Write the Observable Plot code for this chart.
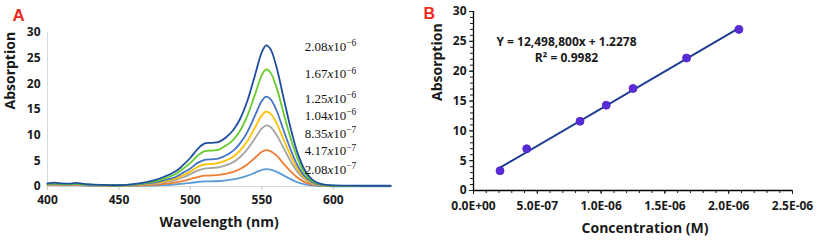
<!DOCTYPE html>
<html><head><meta charset="utf-8">
<script src="https://cdn.jsdelivr.net/npm/d3@7"></script>
<script src="https://cdn.jsdelivr.net/npm/@observablehq/plot@0.6"></script>
<style>
body{margin:0;background:#fff;}
#wrap{display:flex;width:817px;height:242px;overflow:hidden;}
#wrap svg{display:block;}
</style></head><body><div id="wrap"></div>
<script>
// ---------- Panel A: absorption spectra ----------
const wavelengths = [400,405,410,415,420,425,430,440,450,460,470,480,490,495,500,505,510,515,520,525,530,535,540,545,550,553,556,560,565,570,575,580,585,590,595,600,620,640];
const spec_208e7 = [0.25,0.3,0.25,0.22,0.25,0.2,0.15,0.1,0.08,0.12,0.18,0.25,0.4,0.55,0.7,0.88,1.0,1.02,1.07,1.2,1.37,1.66,2.1,2.67,3.25,3.4,3.3,2.9,2.2,1.45,0.82,0.42,0.2,0.1,0.06,0.05,0.04,0.04];
const spec_417e7 = [0.3,0.35,0.3,0.28,0.32,0.26,0.2,0.15,0.12,0.18,0.28,0.45,0.8,1.1,1.45,1.85,2.1,2.15,2.25,2.5,2.85,3.45,4.35,5.55,6.75,7.1,6.9,6.1,4.5,3.0,1.7,0.85,0.4,0.2,0.1,0.08,0.06,0.06];
const spec_835e7 = [0.35,0.45,0.38,0.35,0.4,0.32,0.25,0.18,0.15,0.26,0.42,0.75,1.3,1.8,2.4,3.1,3.5,3.6,3.75,4.15,4.75,5.8,7.3,9.3,11.3,11.9,11.6,10.2,7.6,5.0,2.8,1.4,0.6,0.3,0.15,0.1,0.08,0.08];
const spec_104e6 = [0.4,0.5,0.4,0.38,0.45,0.35,0.28,0.2,0.17,0.3,0.5,0.9,1.6,2.2,2.9,3.8,4.3,4.4,4.6,5.1,5.8,7.1,8.9,11.4,13.9,14.6,14.2,12.5,9.3,6.1,3.4,1.7,0.75,0.35,0.18,0.1,0.1,0.1];
const spec_125e6 = [0.45,0.55,0.45,0.4,0.5,0.38,0.3,0.22,0.18,0.35,0.6,1.1,1.9,2.7,3.5,4.6,5.2,5.3,5.5,6.1,7.0,8.5,10.7,13.7,16.7,17.5,17.0,15.0,11.1,7.3,4.1,2.0,0.9,0.4,0.2,0.12,0.1,0.1];
const spec_167e6 = [0.5,0.6,0.5,0.45,0.55,0.4,0.35,0.25,0.2,0.4,0.75,1.4,2.5,3.5,4.6,6.0,6.9,7.0,7.2,8.0,9.1,11.0,13.9,17.8,21.7,22.8,22.2,19.5,14.5,9.5,5.4,2.6,1.1,0.5,0.25,0.15,0.12,0.12];
const spec_208e6 = [0.6,0.75,0.6,0.55,0.7,0.5,0.4,0.3,0.25,0.45,0.9,1.7,3.0,4.2,5.6,7.3,8.4,8.5,8.7,9.6,11.0,13.3,16.8,21.5,26.2,27.5,26.8,23.5,17.5,11.5,6.5,3.2,1.4,0.6,0.3,0.2,0.15,0.15];

const seriesNames = ["2.08e-7","4.17e-7","8.35e-7","1.04e-6","1.25e-6","1.67e-6","2.08e-6"];
const seriesValues = [spec_208e7, spec_417e7, spec_835e7, spec_104e6, spec_125e6, spec_167e6, spec_208e6];
const seriesColors = ["#5b9bd5","#ed7d31","#a5a5a5","#ffc000","#4472c4","#66cc2e","#1f4e9e"];
const labelMantissa = ["2.08","4.17","8.35","1.04","1.25","1.67","2.08"];
const labelExponent = ["−7","−7","−7","−6","−6","−6","−6"];
const labelY = [3.3, 6.9, 10.3, 13.8, 17.05, 21.9, 27.3];
const xTicksA = [400,450,500,550,600];
const yTicksA = [0,5,10,15,20,25,30];

// ---------- Panel B: calibration ----------
const concentrations = [2.08e-7, 4.17e-7, 8.35e-7, 1.04e-6, 1.25e-6, 1.67e-6, 2.08e-6];
const absorbanceB = [3.3, 7.0, 11.6, 14.3, 17.1, 22.2, 27.0];
const fitSlope = 12498800;
const fitIntercept = 1.2278;
const fitR2 = 0.9982;
const xTicksB = [0, 5e-7, 1e-6, 1.5e-6, 2e-6, 2.5e-6];
const yTicksB = [0,5,10,15,20,25,30];

// ---------- build tables ----------
const spectra = [];
seriesNames.forEach((name, i) => {
  wavelengths.forEach((wl, j) => spectra.push({series: name, wl, a: seriesValues[i][j]}));
});
const concLabels = seriesNames.map((name, i) => ({series: name, m: labelMantissa[i], e: labelExponent[i], y: labelY[i]}));
const points = concentrations.map((c, i) => ({c, a: absorbanceB[i]}));
const cMin = d3.min(concentrations), cMax = d3.max(concentrations);
const fitLine = [cMin, cMax].map(c => ({c, a: fitSlope * c + fitIntercept}));

const sans = "'Open Sans', sans-serif";
const serif = "'Liberation Serif', 'DejaVu Serif', serif";
const tickColor = "#1a1a1a";

const chartA = Plot.plot({
  width: 410, height: 242,
  marginLeft: 47, marginRight: 20, marginTop: 32, marginBottom: 56,
  style: {fontFamily: sans, fontSize: "12px", fontWeight: "bold", color: tickColor, background: "transparent", overflow: "visible"},
  x: {domain: [400, 640]},
  y: {domain: [0, 30]},
  color: {domain: seriesNames, range: seriesColors},
  marks: [
    Plot.ruleX([400], {stroke: "#d3dbe3"}),
    Plot.ruleY([0], {stroke: "#d9d9d9"}),
    Plot.axisY(yTicksA, {tickSize: 0, tickPadding: 7, label: null}),
    Plot.axisX(xTicksA, {tickSize: 4, tickPadding: 5, stroke: "#c8c8c8", label: null}),
    Plot.line(spectra, {x: "wl", y: "a", z: "series", stroke: "series", strokeWidth: 1.8, curve: "catmull-rom"}),
    Plot.text(concLabels, {x: 580, y: "y", text: d => `${d.m}x10${d.e}`, textAnchor: "start",
      fontFamily: serif, fontSize: 13, fontWeight: "normal", fill: "#111"}),
    Plot.text(["Absorption"], {frameAnchor: "left", rotate: -90, dx: -37, fontSize: 14, fontWeight: "bold"}),
    Plot.text(["Wavelength (nm)"], {frameAnchor: "bottom", dy: 40, fontSize: 14, fontWeight: "bold"}),
    Plot.text(["A"], {frameAnchor: "top-left", dx: -35, dy: -24, fontSize: 17, fontWeight: "bold",
      fill: "#ec2a1e", fontFamily: "'Liberation Sans', Arial, sans-serif"})
  ]
});

// superscript exponents in the concentration labels
const NS = "http://www.w3.org/2000/svg";
chartA.querySelectorAll("text").forEach(t => {
  const m = t.textContent.match(/^(.*)x10(.*)$/);
  if (!m) return;
  t.textContent = "";
  const parts = [[m[1], {}], ["x", {"font-style": "italic"}], ["10", {}], [m[2], {"font-size": "0.72em", "dy": "-0.5em"}]];
  parts.forEach(([txt, attrs]) => {
    const s = document.createElementNS(NS, "tspan");
    s.textContent = txt;
    for (const k in attrs) s.setAttribute(k, attrs[k]);
    t.appendChild(s);
  });
});

const fmtE = d => {
  const [mant, ex] = d.toExponential(1).split("e");
  return `${mant}E${ex[0]}${ex.slice(1).padStart(2, "0")}`;
};
const minorX = d3.range(0, 26).map(i => i * 1e-7);
const minorY = d3.range(0, 31);

const chartB = Plot.plot({
  width: 407, height: 242,
  marginLeft: 63, marginRight: 25, marginTop: 11, marginBottom: 52,
  style: {fontFamily: sans, fontSize: "12px", fontWeight: "bold", color: tickColor, background: "transparent", overflow: "visible"},
  x: {domain: [0, 2.5e-6]},
  y: {domain: [0, 30]},
  marks: [
    Plot.axisY(minorY, {tickSize: 3, tickFormat: () => "", label: null}),
    Plot.axisY(yTicksB, {tickSize: 4, tickPadding: 3, label: null}),
    Plot.axisX(minorX, {tickSize: 3, tickFormat: () => "", label: null}),
    Plot.axisX(xTicksB, {tickSize: 4, tickPadding: 7, tickFormat: fmtE, label: null}),
    Plot.ruleX([0], {stroke: "#000", strokeWidth: 1.3}),
    Plot.ruleY([0], {stroke: "#000", strokeWidth: 1.3}),
    Plot.line(fitLine, {x: "c", y: "a", stroke: "#1f3c93", strokeWidth: 2}),
    Plot.dot(points, {x: "c", y: "a", r: 4, fill: "#5a2bd8", stroke: "#4a22c0", strokeWidth: 0.8}),
    Plot.text([`Y = ${d3.format(",")(fitSlope)}x + ${fitIntercept}`], {frameAnchor: "top-left", dx: 93, dy: 26, textAnchor: "middle", fontSize: 12, fontWeight: "bold"}),
    Plot.text([`R² = ${fitR2}`], {frameAnchor: "top-left", dx: 93, dy: 42, textAnchor: "middle", fontSize: 12, fontWeight: "bold"}),
    Plot.text(["Absorption"], {frameAnchor: "left", rotate: -90, dx: -36, fontSize: 14, fontWeight: "bold"}),
    Plot.text(["Concentration (M)"], {frameAnchor: "bottom", dy: 42, dx: 12, fontSize: 14, fontWeight: "bold"}),
    Plot.text(["B"], {frameAnchor: "top-left", dx: -50, dy: -4, fontSize: 16, fontWeight: "bold",
      fill: "#ec2a1e", fontFamily: "'Liberation Sans', Arial, sans-serif"})
  ]
});

document.getElementById("wrap").append(chartA, chartB);
</script></body></html>
